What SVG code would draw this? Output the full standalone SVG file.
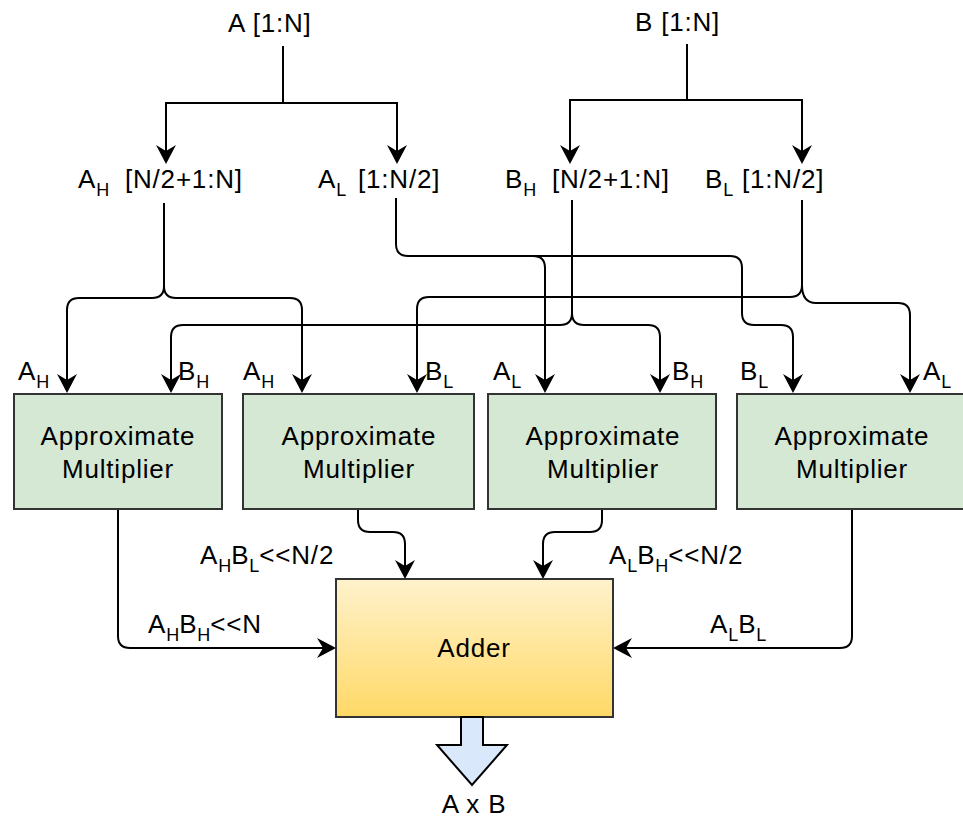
<svg xmlns="http://www.w3.org/2000/svg" width="963" height="818" viewBox="0 0 963 818">
<style>
text { font-family: "Liberation Sans", Arial, sans-serif; font-size: 26px; fill: #000; letter-spacing: 0.8px; }
.sub { font-size: 18px; letter-spacing: 0px; }
.mid { text-anchor: middle; }
.conn path { fill: none; stroke: #000; stroke-width: 2; }
.mult { fill: #d5e8d4; stroke: #333; stroke-width: 2; }
.adder { fill: url(#gold); stroke: #333; stroke-width: 2; }
</style>
<defs>
<marker id="arr" viewBox="-14 -11 22 22" refX="0" refY="0" markerWidth="22" markerHeight="22" markerUnits="userSpaceOnUse" orient="auto">
<path d="M6,0 L-13,-10 L-7,0 L-13,10 Z" fill="#000"/>
</marker>
<linearGradient id="gold" x1="0" y1="0" x2="0" y2="1">
<stop offset="0" stop-color="#fff2cc"/>
<stop offset="1" stop-color="#ffd966"/>
</linearGradient>
</defs>
<rect width="963" height="818" fill="#fff"/>

<g id="connectors" class="conn">
<path d="M283,46 V103"/>
<path d="M283,103 H166 V158" marker-end="url(#arr)"/>
<path d="M283,103 H397 V158" marker-end="url(#arr)"/>
<path d="M687,44 V100"/>
<path d="M687,100 H570 V158" marker-end="url(#arr)"/>
<path d="M687,100 H802 V158" marker-end="url(#arr)"/>

<path d="M164,203 V286 Q164,298 152,298 H79 Q67,298 67,310 V387" marker-end="url(#arr)"/>
<path d="M164,286 Q164,298 176,298 H290 Q302,298 302,310 V387" marker-end="url(#arr)"/>

<path d="M396,198 V244 Q396,256 408,256 H533 Q545,256 545,268 V387" marker-end="url(#arr)"/>
<path d="M533,256 H730 Q742,256 742,268 V313 Q742,325 754,325 H781 Q793,325 793,337 V387" marker-end="url(#arr)"/>

<path d="M572,200 V313 Q572,325 560,325 H183 Q171,325 171,337 V387" marker-end="url(#arr)"/>
<path d="M572,313 Q572,325 584,325 H648 Q660,325 660,337 V387" marker-end="url(#arr)"/>

<path d="M802,200 V285 Q802,297 790,297 H429 Q417,297 417,309 V387" marker-end="url(#arr)"/>
<path d="M802,285 Q802,303 816,303 H898 Q910,303 910,315 V387" marker-end="url(#arr)"/>

<path d="M118,509 V636 Q118,648 130,648 H330" marker-end="url(#arr)"/>
<path d="M358,509 V520 Q358,532 370,532 H393 Q405,532 405,544 V573" marker-end="url(#arr)"/>
<path d="M602,509 V520 Q602,532 590,532 H555 Q543,532 543,544 V573" marker-end="url(#arr)"/>
<path d="M852,509 V636 Q852,648 840,648 H619" marker-end="url(#arr)"/>
</g>

<g id="label-A"><text x="228" y="32">A [1:N]</text></g>
<g id="label-B"><text x="635" y="31">B [1:N]</text></g>
<g id="label-AH"><text x="78" y="188">A<tspan class="sub" dy="8">H</tspan><tspan x="125" dy="-8">[N/2+1:N]</tspan></text></g>
<g id="label-AL"><text x="318" y="188">A<tspan class="sub" dy="8">L</tspan><tspan x="358" dy="-8">[1:N/2]</tspan></text></g>
<g id="label-BH"><text x="505" y="188">B<tspan class="sub" dy="8">H</tspan><tspan x="552" dy="-8">[N/2+1:N]</tspan></text></g>
<g id="label-BL"><text x="705" y="188">B<tspan class="sub" dy="8">L</tspan><tspan x="742" dy="-8">[1:N/2]</tspan></text></g>

<g id="in-labels">
<text x="18" y="380">A<tspan class="sub" dy="8">H</tspan></text>
<text x="178" y="380">B<tspan class="sub" dy="8">H</tspan></text>
<text x="243" y="380">A<tspan class="sub" dy="8">H</tspan></text>
<text x="425" y="380">B<tspan class="sub" dy="8">L</tspan></text>
<text x="493" y="380">A<tspan class="sub" dy="8">L</tspan></text>
<text x="672" y="380">B<tspan class="sub" dy="8">H</tspan></text>
<text x="740" y="380">B<tspan class="sub" dy="8">L</tspan></text>
<text x="923" y="380">A<tspan class="sub" dy="8">L</tspan></text>
</g>

<g id="mult1"><rect class="mult" x="14" y="394" width="208" height="115"/><text class="mid" x="118" y="445">Approximate</text><text class="mid" x="118" y="478">Multiplier</text></g>
<g id="mult2"><rect class="mult" x="243" y="394" width="231" height="115"/><text class="mid" x="359" y="445">Approximate</text><text class="mid" x="359" y="478">Multiplier</text></g>
<g id="mult3"><rect class="mult" x="488" y="394" width="228" height="115"/><text class="mid" x="603" y="445">Approximate</text><text class="mid" x="603" y="478">Multiplier</text></g>
<g id="mult4"><rect class="mult" x="737" y="394" width="229" height="115"/><text class="mid" x="852" y="445">Approximate</text><text class="mid" x="852" y="478">Multiplier</text></g>

<g id="out-labels">
<text x="200" y="564">A<tspan class="sub" dy="8">H</tspan><tspan dy="-8">B</tspan><tspan class="sub" dy="8">L</tspan><tspan dy="-8">&lt;&lt;N/2</tspan></text>
<text x="148" y="633">A<tspan class="sub" dy="8">H</tspan><tspan dy="-8">B</tspan><tspan class="sub" dy="8">H</tspan><tspan dy="-8">&lt;&lt;N</tspan></text>
<text x="609" y="564">A<tspan class="sub" dy="8">L</tspan><tspan dy="-8">B</tspan><tspan class="sub" dy="8">H</tspan><tspan dy="-8">&lt;&lt;N/2</tspan></text>
<text x="710" y="633">A<tspan class="sub" dy="8">L</tspan><tspan dy="-8">B</tspan><tspan class="sub" dy="8">L</tspan></text>
</g>

<g id="adder"><rect class="adder" x="336" y="579" width="277" height="138"/><text class="mid" x="474" y="657">Adder</text></g>

<g id="output"><polygon points="461,717 483,717 483,745 507,745 472,785 437,745 461,745" fill="#dae8fc" stroke="#000" stroke-width="2"/><text class="mid" x="474" y="813">A x B</text></g>
</svg>
